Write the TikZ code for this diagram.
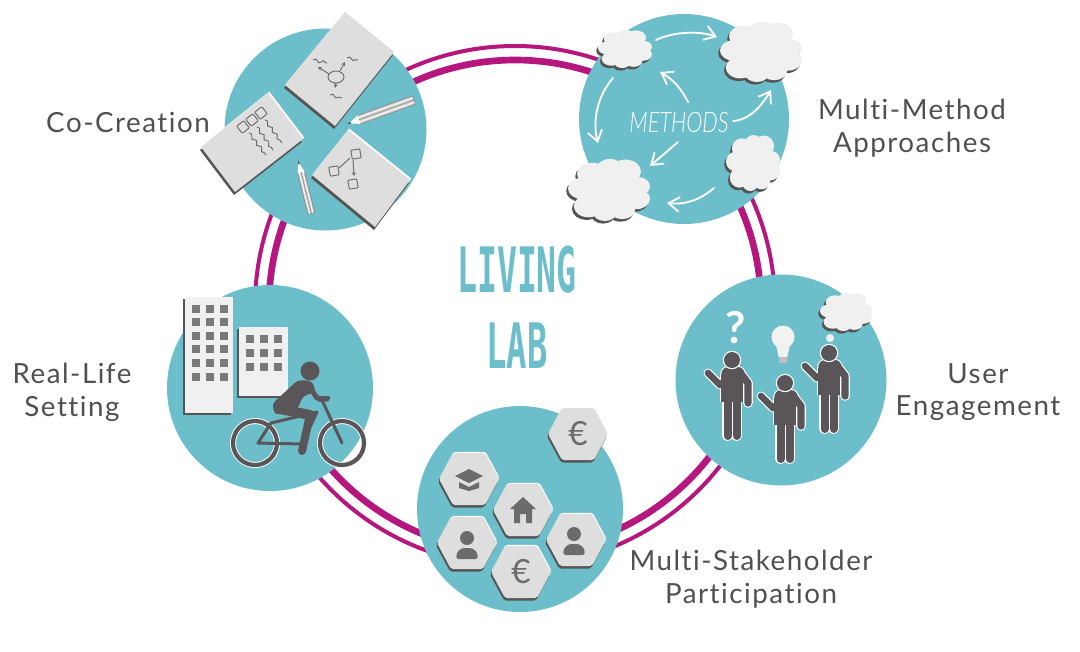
\documentclass[tikz,border=0pt]{standalone}
\usepackage{fontspec}
\setmainfont{Lato}
\newfontfamily\lab[LetterSpace=5.5,Ligatures=NoCommon]{Lato}
\newfontfamily\ttlf{DejaVu Sans Mono}
\newfontfamily\thinit{Lato Light}
\usetikzlibrary{arrows.meta,decorations.pathmorphing,shapes.geometric}
\definecolor{teal}{HTML}{6CBFCA}
\definecolor{mag}{HTML}{B5177F}
\definecolor{ink}{HTML}{5A5558}
\definecolor{papr}{HTML}{DEDEDE}
\definecolor{shad}{HTML}{555555}
\definecolor{txt}{HTML}{505050}
\definecolor{icon}{HTML}{6B6B6B}
\tikzset{
 hub/.style={circle,fill=teal,draw=none,minimum size=#1*.75pt,inner sep=0pt},
 label/.style={text=txt,align=center,font=\lab\fontsize{20.8}{24.6}\selectfont},
 ringthin/.style={draw=mag,line width=3pt,fill=none},
 ringthick/.style={draw=mag,line width=5pt,fill=none},
 sketch/.style={draw=icon,line width=.7pt,fill=none},
 wavy/.style={sketch,decorate,decoration={snake,segment length=6pt,amplitude=1.1pt}},
 sharrow/.style={sketch,-{Stealth[length=3pt,width=3pt]}},
 warrow/.style={draw=white,line width=1.4pt,line cap=round,-{Straight Barb[length=8pt,width=11pt,line width=1.4pt]}},
 limb/.style={draw=ink,line width=#1*.75pt,line cap=round,line join=round,fill=none},
 halo/.style={draw=white,line width=#1*.75pt,line cap=round,line join=round,fill=none},
 titletext/.style={text=teal,font=\ttlf\bfseries\fontsize{47}{47}\selectfont,inner sep=0pt},
}
\newcommand\paperpoly[4]{%
 \fill[white] ([shift={(1.2,-1.5)}]#1) -- ([shift={(1.2,-1.5)}]#2) -- ([shift={(1.2,-1.5)}]#3) -- ([shift={(1.2,-1.5)}]#4) -- cycle;
 \fill[shad] ([shift={(-1,3)}]#1) -- ([shift={(-1,3)}]#2) -- ([shift={(-1,3)}]#3) -- ([shift={(-1,3)}]#4) -- cycle;
 \fill[papr] (#1) -- (#2) -- (#3) -- (#4) -- cycle;}
\newcommand\sq[3]{\draw[sketch,rotate around={#3:(#1,#2)},rounded corners=.6pt] (#1-4.5,#2-4.5) rectangle (#1+4.5,#2+4.5);}
\newcommand\pencilfig[5]{%
 \begin{scope}[shift={(#1,#2)},rotate=#3]
 \fill[white] (2,0) -- (13,-#5) -- (13,#5) -- cycle;
 \fill[shad] (0,0) -- (4,-1) -- (4,1) -- cycle;
 \fill[gray!35] (13,-#5) rectangle (#4,#5);
 \draw[draw=gray!90,line width=.6pt] (13,-#5) -- (#4,-#5) -- (#4,#5) -- (13,#5);
 \draw[draw=white,line width=.6pt] (13,-#5/2) -- (#4,-#5/2) (13,#5/2) -- (#4,#5/2);
 \draw[draw=gray!90,line width=.5pt] (13,0) -- (#4,0);
 \end{scope}}
\newcommand\cloudpath{%
 (0,0) ellipse (.78 and .72)
 (-.66,-.05) circle (.34) (-.42,-.52) circle (.36) (.02,-.66) circle (.34) (.40,-.60) circle (.38)
 (.70,-.12) circle (.30) (.66,.28) circle (.34) (.32,.62) circle (.32) (-.10,.70) circle (.30) (-.50,.52) circle (.36)}
\newcommand\cloudfig[4]{%
 \begin{scope}[shift={(#1-1.8,#2+2.6)},x=#3*.75pt,y=-#4*.75pt] \fill[shad] \cloudpath; \end{scope}
 \begin{scope}[shift={(#1,#2)},x=#3*.75pt,y=-#4*.75pt] \fill[gray!12] \cloudpath; \end{scope}}
\newcommand\hexfig[2]{%
 \fill[white,rounded corners=1.5pt,shift={(#1+.6,#2-1.2)}] (-30,0)--(-16,-26)--(16,-26)--(30,0)--(16,26)--(-16,26)--cycle;
 \fill[shad,rounded corners=1.5pt,shift={(#1-1,#2+2.5)}] (-30,0)--(-16,-26)--(16,-26)--(30,0)--(16,26)--(-16,26)--cycle;
 \fill[papr,rounded corners=1.5pt,shift={(#1,#2)}] (-30,0)--(-16,-26)--(16,-26)--(30,0)--(16,26)--(-16,26)--cycle;}
\newcommand\hexperson[2]{%
 \begin{scope}[shift={(#1,#2)}]
 \fill[icon] (0,-8) circle (7);
 \fill[icon,rounded corners=2pt] (-11,13) -- (-10,6) -- (-5,2) -- (5,2) -- (10,6) -- (11,13) -- cycle;
 \end{scope}}
\newcommand\personfig[2]{%
 \begin{scope}[shift={(#1,#2)}]
 \foreach \st/\ex in {halo/2.2,limb/0}{
  \draw[\st=5.5+\ex] (9,14) -- (16,23) -- (16,43);
  \draw[\st=5+\ex] (-3,18) -- (-12,25) -- (-24,13);
  \draw[\st=6+\ex] (-4.5,30) -- (-4.5,76);
  \draw[\st=6+\ex] (4.5,30) -- (4.5,76);
  \draw[\st=16+\ex,line cap=butt] (0,15) -- (0,42);
  \draw[\st=10+\ex] (-4,14) -- (6,14);
 }
 \fill[white] (0,0) circle (9.2);
 \fill[ink] (0,0) circle (8);
 \end{scope}}
\begin{document}
\begin{tikzpicture}[x=.75pt,y=-.75pt]
\useasboundingbox (0,0) rectangle (1080,651);
\fill[white] (0,0) rectangle (1080,651);
% ring
\coordinate (ringc) at (515,306);
\draw[ringthin] (ringc) circle (260);
\draw[ringthick] (ringc) circle (246);
% hubs
\node[hub=202] (cocreation) at (325.5,129.5) {};
\node[hub=210] (methods) at (684,119) {};
\node[hub=206] (reallife) at (270,388) {};
\node[hub=206] (stake) at (520,509) {};
\node[hub=211] (user) at (781,380) {};
% ---- co-creation
\paperpoly{345,12}{394,52}{335,126}{285,85}
\paperpoly{268,93}{303,139}{235,192}{201,147}
\paperpoly{348,130}{410,180}{375,227}{312,175}
\draw[sketch] (336,77) ellipse (8 and 6);
\draw[sharrow] (329,74) -- (318,67);
\draw[sharrow] (340,71) -- (345,62);
\draw[sharrow] (336,83) -- (335,88);
\draw[wavy] (313,60) -- (327,63);
\draw[wavy] (347,58) -- (358,60);
\draw[wavy] (330,95) -- (342,98);
\sq{261}{113}{38}\sq{252}{120}{38}\sq{243}{127}{38}
\draw[wavy] (265,120) -- (282,143);
\draw[wavy] (257,127) -- (273,150);
\draw[wavy] (249,133) -- (266,155);
\sq{356}{154}{10}\sq{334}{171}{10}\sq{353}{184}{10}
\draw[sketch] (350,158) -- (339,168);
\draw[sharrow] (353,160) -- (354,176);
\pencilfig{347}{124}{19.7}{71}{4.5}
\pencilfig{298}{160}{-76}{55}{3.5}
% ---- methods
\draw[warrow] (656,40) .. controls (675,31) and (700,31) .. (717,37);
\draw[warrow] (733,121) .. controls (750,120) and (762,105) .. (771,90);
\draw[warrow] (714,188) .. controls (700,200) and (685,205) .. (667,203);
\draw[warrow] (613,78) .. controls (598,95) and (592,120) .. (598,143);
\draw[warrow] (688,102) .. controls (682,90) and (674,80) .. (660,72);
\draw[warrow] (678,142) -- (650,166);
\cloudfig{625}{49}{27}{19}
\cloudfig{761}{52}{41}{30}
\cloudfig{753}{163}{27}{28}
\cloudfig{609}{190}{41}{31}
\node[text=white,font=\thinit\itshape\fontsize{17}{20}\selectfont,xscale=.96,yscale=1.25] (methodstext) at (679,122) {METHODS};
% ---- real-life
\fill[shad] (183,299) rectangle (231,415);
\fill[gray!12] (185,297) rectangle (233,413);
\foreach \x in {196,210,224}\foreach \y in {309,322,336,349,363,377}\fill[gray!95!black] (\x-4,\y-4) rectangle (\x+4,\y+4);
\fill[shad] (237,329) rectangle (286,398);
\fill[gray!12] (239,327) rectangle (288,396);
\foreach \x in {250,264,278}\foreach \y in {339,353,367}\fill[gray!95!black] (\x-4,\y-4) rectangle (\x+4,\y+4);
\draw[halo=6] (255,443) circle (22) (342,443) circle (22);
\draw[limb=4.2] (255,443) circle (22) (342,443) circle (22);
\draw[limb=3] (258,443) -- (271,423) -- (317,412) -- (302,444) -- cycle;
\draw[limb=3] (322,400) -- (342,443);
\draw[limb=4] (320,400) -- (328,398);
\fill[ink,rounded corners=3pt] (298,380) -- (312,381) -- (316,392) -- (303,396) -- (297,410) -- (275,415) -- (272,404) -- (285,392) -- cycle;
\draw[limb=5] (308,385) -- (317,398) -- (327,399);
\draw[limb=10] (280,409) -- (310,415);
\draw[limb=8] (310,415) -- (302,451);
\fill[ink] (310,371) circle (9.5);
% ---- stakeholders
\hexfig{578}{434}\hexfig{469}{479}\hexfig{523}{510}\hexfig{467}{543}\hexfig{521}{572}\hexfig{576}{540}
\node[text=icon,font=\fontsize{25}{25}\selectfont] (euroa) at (578,434) {€};
\node[text=icon,font=\fontsize{25}{25}\selectfont] (eurob) at (521,572) {€};
\fill[icon] (455,476) -- (469,469) -- (483,476) -- (469,483) -- cycle;
\fill[icon] (459,482) -- (469,487) -- (479,482) -- (479,488) -- (469,491) -- (459,488) -- cycle;
\fill[icon] (510,509) -- (523,497) -- (536,509) -- (532,509) -- (532,523) -- (526,523) -- (526,514) -- (520,514) -- (520,523) -- (514,523) -- (514,509) -- cycle;
\hexperson{467}{546}
\hexperson{574}{542}
% ---- user
\personfig{732}{360}
\personfig{785}{383}
\personfig{829}{353}
\node[text=white,font=\bfseries\fontsize{33}{33}\selectfont] (qmark) at (736,328) {?};
\fill[gray!10] (783,337) circle (11.5);
\fill[gray!10] (776,345) -- (790,345) -- (787,358) -- (779,358) -- cycle;
\fill[gray!50] (779,357) rectangle (787,363);
\cloudfig{846}{312}{26}{19}
\fill[gray!12] (830,338) circle (4);
% ---- texts
\node[titletext,xscale=.53] (living) at (517,270) {LIVING};
\node[titletext,xscale=.54] (lab) at (517,345.5) {LAB};
\node[label] (lcoc) at (128,122) {Co-Creation};
\node[label] (lmm) at (912,128) {Multi-Method\\Approaches};
\node[label] (lrl) at (72,392) {Real-Life\\Setting};
\node[label] (lue) at (978,392) {User\\Engagement};
\node[label] (lms) at (751,579) {Multi-Stakeholder\\Participation};
\end{tikzpicture}
\end{document}
